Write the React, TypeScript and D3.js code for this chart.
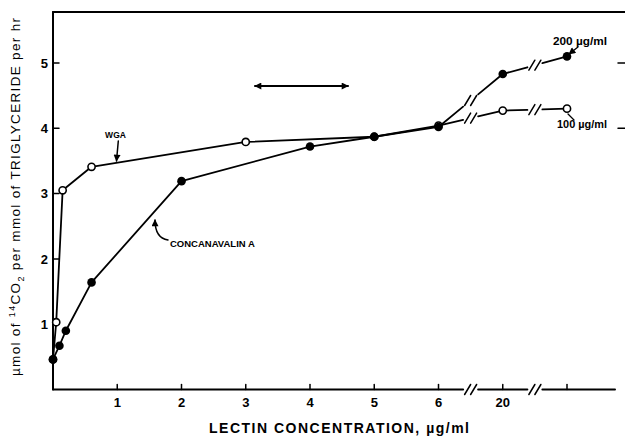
import React, { useEffect, useRef } from "react"
import * as d3 from "d3"

// lectin concentration (ug/ml) and 14CO2 output
const conAConc = [0, 0.1, 0.2, 0.6, 2, 4, 5, 6, 20, 200]
const conAVals = [0.46, 0.67, 0.9, 1.64, 3.19, 3.72, 3.87, 4.02, 4.83, 5.1]
const wgaConc = [0, 0.05, 0.15, 0.6, 3, 5, 6, 20, 100]
const wgaVals = [0.46, 1.03, 3.05, 3.41, 3.79, 3.87, 4.04, 4.27, 4.3]

const xTicks = [1, 2, 3, 4, 5, 6, 20, 200]
const xTickLabels = ["1", "2", "3", "4", "5", "6", "20", ""]
const yTicks = [1, 2, 3, 4, 5]
const rightTicks = [4, 5]

type Pt = [number, number]

const App = () => {
  const ref = useRef<SVGSVGElement>(null)

  useEffect(() => {
    document.body.style.margin = "0"
    const svg = d3.select(ref.current)
    svg.selectAll("*").remove()

    const font = "'Liberation Sans', Arial, Helvetica, sans-serif"
    // axis is broken after 6 and after 20
    const unit = (c: number) => (c <= 6 ? c : c <= 20 ? 7 : 8)
    const x = d3.scaleLinear().domain([0, 8]).range([53, 567])
    const y = d3.scaleLinear().domain([0, 5.78]).range([389.5, 12])
    const breakX = [x(6.5), x(7.5)]
    const gap = 7.5

    const defs = svg.append("defs")
    defs.append("marker")
      .attr("id", "head")
      .attr("viewBox", "0 0 10 10")
      .attr("refX", 9)
      .attr("refY", 5)
      .attr("markerWidth", 8)
      .attr("markerHeight", 7)
      .attr("markerUnits", "userSpaceOnUse")
      .attr("orient", "auto-start-reverse")
      .append("path")
      .attr("d", "M0,0 L10,5 L0,10 Z")
      .attr("fill", "black")

    const g = svg.append("g").attr("stroke-linecap", "round")

    // draw a polyline, cutting it with "//" where it crosses a break
    const broken = (pts: Pt[], width: number) => {
      for (let i = 0; i < pts.length - 1; i++) {
        const [x0, y0] = pts[i]
        const [x1, y1] = pts[i + 1]
        const at = (xx: number): Pt => [xx, y0 + ((y1 - y0) * (xx - x0)) / (x1 - x0)]
        let start: Pt = [x0, y0]
        breakX.filter(b => b > x0 && b < x1).forEach(b => {
          const a = at(b - gap)
          g.append("line")
            .attr("x1", start[0]).attr("y1", start[1])
            .attr("x2", a[0]).attr("y2", a[1])
            .attr("stroke", "black").attr("stroke-width", width)
          const c = at(b)
          ;[-3, 3].forEach(o => {
            g.append("line")
              .attr("x1", c[0] + o - 3).attr("y1", c[1] + 5)
              .attr("x2", c[0] + o + 3).attr("y2", c[1] - 5)
              .attr("stroke", "black").attr("stroke-width", 1.5)
          })
          start = at(b + gap)
        })
        g.append("line")
          .attr("x1", start[0]).attr("y1", start[1])
          .attr("x2", x1).attr("y2", y1)
          .attr("stroke", "black").attr("stroke-width", width)
      }
    }

    // frame
    g.append("line").attr("x1", x(0)).attr("y1", y(0)).attr("x2", x(0)).attr("y2", 12)
      .attr("stroke", "black").attr("stroke-width", 2)
    g.append("line").attr("x1", x(0)).attr("y1", 12).attr("x2", 625).attr("y2", 12)
      .attr("stroke", "black").attr("stroke-width", 2)
    broken([[x(0), y(0)], [615, y(0)]], 2)

    // x ticks
    xTicks.forEach((c, i) => {
      const xx = x(unit(c))
      g.append("line").attr("x1", xx).attr("x2", xx).attr("y1", y(0)).attr("y2", y(0) - 5)
        .attr("stroke", "black").attr("stroke-width", 1.5)
      g.append("text").attr("x", xx).attr("y", 407)
        .attr("text-anchor", "middle")
        .style("font-family", font).style("font-size", "13px").style("font-weight", "bold")
        .text(xTickLabels[i])
    })

    // y ticks
    yTicks.forEach(v => {
      g.append("line").attr("x1", x(0)).attr("x2", x(0) + 6).attr("y1", y(v)).attr("y2", y(v))
        .attr("stroke", "black").attr("stroke-width", 1.5)
      g.append("text").attr("x", 48).attr("y", y(v)).attr("dy", "0.36em")
        .attr("text-anchor", "end")
        .style("font-family", font).style("font-size", "13px").style("font-weight", "bold")
        .text(v)
    })
    rightTicks.forEach(v => {
      g.append("line").attr("x1", 618).attr("x2", 625).attr("y1", y(v)).attr("y2", y(v))
        .attr("stroke", "black").attr("stroke-width", 1.5)
    })

    // data lines
    const wgaPts: Pt[] = wgaConc.map((c, i) => [x(unit(c)), y(wgaVals[i])])
    const conPts: Pt[] = conAConc.map((c, i) => [x(unit(c)), y(conAVals[i])])
    broken(wgaPts, 1.8)
    broken(conPts, 1.8)

    g.selectAll(".wga").data(wgaPts).enter().append("circle")
      .attr("class", "wga")
      .attr("cx", d => d[0]).attr("cy", d => d[1]).attr("r", 3.6)
      .attr("fill", "white").attr("stroke", "black").attr("stroke-width", 1.6)
    g.selectAll(".cona").data(conPts).enter().append("circle")
      .attr("class", "cona")
      .attr("cx", d => d[0]).attr("cy", d => d[1]).attr("r", 4.3)
      .attr("fill", "black")

    // annotations
    const lbl = (tx: number, ty: number, s: string, size: number, anchor = "start") =>
      g.append("text").attr("x", tx).attr("y", ty).attr("text-anchor", anchor)
        .style("font-family", font).style("font-size", size + "px").style("font-weight", "bold")
        .text(s)

    lbl(115.5, 138, "WGA", 8.5, "middle")
    g.append("line").attr("x1", 118.3).attr("y1", 141).attr("x2", 116.5).attr("y2", 161)
      .attr("stroke", "black").attr("stroke-width", 1.5).attr("marker-end", "url(#head)")

    lbl(170, 247, "CONCANAVALIN A", 9.5)
    g.append("path").attr("d", "M168,240 Q155,238 155,220")
      .attr("fill", "none").attr("stroke", "black").attr("stroke-width", 1.5)
      .attr("marker-end", "url(#head)")

    g.append("line").attr("x1", 255).attr("y1", 86).attr("x2", 348).attr("y2", 86)
      .attr("stroke", "black").attr("stroke-width", 2)
      .attr("marker-start", "url(#head)").attr("marker-end", "url(#head)")

    lbl(553, 45, "200 \u00b5g/ml", 10).attr("textLength", 54).attr("lengthAdjust", "spacingAndGlyphs")
    g.append("line").attr("x1", 578).attr("y1", 47).attr("x2", 569).attr("y2", 54)
      .attr("stroke", "black").attr("stroke-width", 1.3).attr("marker-end", "url(#head)")

    lbl(557, 128, "100 \u00b5g/ml", 10).attr("textLength", 50).attr("lengthAdjust", "spacingAndGlyphs")
    g.append("line").attr("x1", 574).attr("y1", 120).attr("x2", 568).attr("y2", 114)
      .attr("stroke", "black").attr("stroke-width", 1.3)

    // axis titles
    g.append("text").attr("x", 339).attr("y", 433).attr("text-anchor", "middle")
      .attr("textLength", 260).attr("lengthAdjust", "spacing")
      .style("font-family", font).style("font-size", "14px").style("font-weight", "bold")
      .text("LECTIN  CONCENTRATION, \u00b5g/ml")

    const yt = g.append("text")
      .attr("transform", "translate(20,197) rotate(-90)")
      .attr("text-anchor", "middle")
      .attr("textLength", 358).attr("lengthAdjust", "spacing")
      .style("font-family", font).style("font-size", "13.5px")
    yt.append("tspan").text("\u00b5mol of  ")
    yt.append("tspan").attr("dy", -5).style("font-size", "9px").text("14")
    yt.append("tspan").attr("dy", 5).text("CO")
    yt.append("tspan").attr("dy", 4).style("font-size", "9px").text("2")
    yt.append("tspan").attr("dy", -4).text("  per  mmol  of  TRIGLYCERIDE  per  hr")
  }, [])

  return (
    <div>
      <svg ref={ref} width={625} height={440} style={{ display: "block", background: "white" }} />
    </div>
  )
}

export default App
